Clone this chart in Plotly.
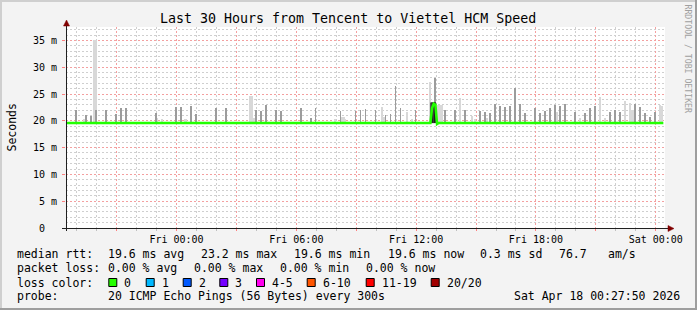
import plotly.graph_objects as go
import pandas as pd

# ---------------- data ----------------
T0 = pd.Timestamp("2026-04-16 18:27:50")   # start of the 30 h window
STEP_MIN = 5
N_STEPS = 360

# median RTT (ms) per 5-minute step
median_ms = [19.6] * 220 + [22.4, 23.2, 23.0, 19.4] + [19.6] * 136

# darker smoke spikes: step index -> top (ms)
dark_idx = [6, 12, 15, 18, 24, 30, 33, 36, 54, 66, 69, 75, 78, 90, 96, 114, 117, 120, 126, 129,
            141, 147, 150, 165, 174, 177, 180, 186, 192, 195, 198, 201, 210, 222, 228, 234, 240,
            249, 252, 255, 258, 261, 264, 267, 270, 273, 276, 282, 285, 288, 291, 294, 297, 300,
            306, 312, 315, 318, 327, 330, 333, 342, 345, 348, 351, 354]
dark_top = [22.1, 21.1, 20.9, 22.0, 22.0, 21.3, 22.3, 22.4, 21.5, 22.5, 22.6, 22.8, 21.3, 22.3, 22.3,
            22.0, 21.8, 22.9, 22.1, 21.8, 22.3, 20.5, 22.3, 21.9, 21.9, 22.0, 22.2, 22.0, 21.1, 21.3,
            26.5, 22.3, 22.1, 27.9, 22.0, 22.0, 22.0, 21.9, 21.7, 21.4, 23.1, 22.8, 22.6, 22.8, 26.1,
            23.1, 21.5, 22.3, 21.4, 21.9, 22.3, 22.9, 22.8, 23.1, 21.7, 21.4, 22.3, 22.8, 21.7, 22.1,
            21.7, 23.1, 22.5, 21.4, 20.7, 21.7]

# light smoke: step index -> top (ms)
light_idx = [11, 17, 18, 54, 55, 58, 72, 111, 112, 113, 162, 166, 167, 168, 190, 191, 205, 208, 219,
             224, 225, 226, 237, 244, 246, 253, 294, 295, 309, 321, 324, 336, 339, 340, 341, 357, 358]
light_top = [20.3, 35.1, 35.1, 20.5, 20.5, 20.3, 20.3, 24.6, 24.6, 20.5, 20.3, 20.7, 20.7, 20.4, 22.6,
             20.8, 21.7, 20.4, 27.3, 22.9, 22.9, 22.9, 24.2, 20.9, 20.4, 20.6, 21.7, 21.7, 20.6, 24.5,
             20.6, 23.7, 23.4, 22.0, 22.0, 22.9, 22.8]

# dense smoke block
block_idx = [220, 221, 222]
block_top = [23.3, 23.3, 23.3]
smoke_floor = 19.5

y_ticks = [0, 5, 10, 15, 20, 25, 30, 35]
y_ticktext = ["0\u00a0\u00a0", "5 m", "10 m", "15 m", "20 m", "25 m", "30 m", "35 m"]

legend_rows = [
    [("median rtt:", 16), ("19.6 ms avg", 107.3), ("23.2 ms max", 200), ("19.6 ms min", 293.3),
     ("19.6 ms now", 386.7), ("0.3 ms sd", 479.3), ("76.7", 558), ("am/s", 607.3)],
    [("packet loss:", 16), ("0.00 % avg", 107.3), ("0.00 % max", 193.3), ("0.00 % min", 279.3),
     ("0.00 % now", 365)],
    [("loss color:", 16)],
    [("probe:", 16), ("20 ICMP Echo Pings (56 Bytes) every 300s", 107.3),
     ("Sat Apr 18 00:27:50 2026", 513.3)],
]
row_y = [254.3, 268.3, 282.5, 296.3]
loss_labels = ["0", "1", "2", "3", "4-5", "6-10", "11-19", "20/20"]
loss_colors = ["#26ff00", "#00b8ff", "#0059ff", "#7400ff", "#ff00ee", "#ff5500", "#ff0000", "#a10000"]
loss_box_x = [108.3, 145.7, 182.7, 219.3, 256, 306.7, 365.7, 430.7]

# ---------------- figure ----------------
W, H = 697, 310
L, T, PW, PH = 66, 27, 599, 201
FONT = "DejaVu Sans Mono"


def px(x):
    return (x - L) / PW


def py(y):
    return (T + PH - y) / PH


times = [T0 + pd.Timedelta(minutes=STEP_MIN * i) for i in range(N_STEPS)]
step_ms = STEP_MIN * 60 * 1000

fig = go.Figure()
fig.add_trace(go.Bar(x=[times[i] for i in light_idx], y=[v - smoke_floor for v in light_top],
                     base=smoke_floor, width=step_ms, marker=dict(color="#d8d8d8", line_width=0),
                     hoverinfo="skip"))
fig.add_trace(go.Bar(x=[times[i] for i in dark_idx], y=[v - smoke_floor for v in dark_top],
                     base=smoke_floor, width=step_ms * 0.5, marker=dict(color="#9c9c9c", line_width=0),
                     hoverinfo="skip"))
fig.add_trace(go.Bar(x=[times[i] for i in block_idx], y=[v - smoke_floor for v in block_top],
                     base=smoke_floor, width=step_ms, marker=dict(color="#444444", line=dict(color="#000000", width=0.6)),
                     hoverinfo="skip"))
fig.add_trace(go.Scatter(x=times, y=median_ms, mode="lines", line=dict(color="#22ff00", width=2.6),
                         hoverinfo="skip"))

x_end = T0 + pd.Timedelta(hours=30)
major_vals, major_text = [], []
t = pd.Timestamp("2026-04-16 21:00")
while t <= x_end:
    major_vals.append(t)
    major_text.append(t.strftime("%a %H:%M") if t.hour % 6 == 0 else "")
    t += pd.Timedelta(hours=3)

grid_minor = "#cfcfcf"
grid_major = "#f4a0a0"

fig.update_layout(
    width=W, height=H,
    margin=dict(l=L, r=W - L - PW, t=T, b=H - T - PH, pad=0),
    paper_bgcolor="#f3f3f3", plot_bgcolor="#ffffff",
    showlegend=False, barmode="overlay", bargap=0,
    font=dict(family=FONT, color="#000000", size=10),
    xaxis=dict(type="date", range=[T0, x_end], tickmode="array", tickvals=major_vals, ticktext=major_text,
               showgrid=True, gridcolor=grid_major, griddash="2px,2px", gridwidth=1,
               ticks="outside", ticklen=2, tickcolor="#ff8080", tickfont=dict(size=10, family=FONT),
               showline=False, zeroline=False,
               minor=dict(tickmode="linear", tick0="2026-04-16 00:00", dtick=3600000, showgrid=True,
                          gridcolor=grid_minor, griddash="2px,2px", gridwidth=1,
                          ticks="outside", ticklen=2, tickcolor="#c0c0c0")),
    yaxis=dict(range=[0, 37.5], tickmode="array", tickvals=y_ticks, ticktext=y_ticktext,
               showgrid=True, gridcolor=grid_major, griddash="2px,2px", gridwidth=1,
               ticks="outside", ticklen=3, tickcolor="#ff8080", tickfont=dict(size=10, family=FONT),
               showline=False, zeroline=False, ticklabelstandoff=3,
               minor=dict(tickmode="linear", tick0=0, dtick=1, showgrid=True, gridcolor=grid_minor,
                          griddash="2px,2px", gridwidth=1)),
)

shapes = []
# frame shading
shapes.append(dict(type="rect", xref="paper", yref="paper", x0=px(0), x1=px(W), y0=py(0), y1=py(2),
                   fillcolor="#cfcfcf", line_width=0, layer="below"))
shapes.append(dict(type="rect", xref="paper", yref="paper", x0=px(0), x1=px(2), y0=py(0), y1=py(H),
                   fillcolor="#cfcfcf", line_width=0, layer="below"))
shapes.append(dict(type="rect", xref="paper", yref="paper", x0=px(0), x1=px(W), y0=py(H - 2), y1=py(H),
                   fillcolor="#9e9e9e", line_width=0, layer="below"))
shapes.append(dict(type="rect", xref="paper", yref="paper", x0=px(W - 2), x1=px(W), y0=py(0), y1=py(H),
                   fillcolor="#9e9e9e", line_width=0, layer="below"))
# axes
shapes.append(dict(type="line", xref="paper", yref="paper", x0=px(62), x1=px(669), y0=py(228.5), y1=py(228.5),
                   line=dict(color="#202020", width=1)))
shapes.append(dict(type="line", xref="paper", yref="paper", x0=px(66.5), x1=px(66.5), y0=py(231), y1=py(24),
                   line=dict(color="#202020", width=1)))
# arrows
shapes.append(dict(type="path", xref="paper", yref="paper",
                   path=f"M {px(66.5)} {py(20)} L {px(63.5)} {py(26)} L {px(69.5)} {py(26)} Z",
                   fillcolor="#800000", line=dict(color="#800000", width=0.5)))
shapes.append(dict(type="path", xref="paper", yref="paper",
                   path=f"M {px(674)} {py(228.5)} L {px(668)} {py(225.5)} L {px(668)} {py(231.5)} Z",
                   fillcolor="#800000", line=dict(color="#800000", width=0.5)))
# loss colour boxes
for c, bx in zip(loss_colors, loss_box_x):
    shapes.append(dict(type="rect", xref="paper", yref="paper", x0=px(bx + 0.5), x1=px(bx + 8.5),
                       y0=py(278.5), y1=py(286.5), fillcolor=c, line=dict(color="#000000", width=1)))
fig.update_layout(shapes=shapes)

ann = []
ann.append(dict(text="Last 30 Hours from Tencent to Viettel HCM Speed", x=px(347.5), y=py(19),
                xanchor="center", yanchor="middle", font=dict(size=13.3, family=FONT)))
ann.append(dict(text="Seconds", x=px(11), y=py(127.5), textangle=-90, xanchor="center", yanchor="middle",
                font=dict(size=11.5, family=FONT)))
ann.append(dict(text="RRDTOOL / TOBI OETIKER", x=px(687.5), y=py(59), textangle=90, xanchor="center",
                yanchor="middle", font=dict(size=8.2, family=FONT, color="#a0a0a0")))
for row, yy in zip(legend_rows, row_y):
    for txt, xx in row:
        ann.append(dict(text=txt, x=px(xx - 1), y=py(yy), xanchor="left", yanchor="middle",
                        font=dict(size=11.5, family=FONT)))
for lab, bx in zip(loss_labels, loss_box_x):
    ann.append(dict(text=lab, x=px(bx + 15 - 1), y=py(row_y[2]), xanchor="left", yanchor="middle",
                    font=dict(size=11.5, family=FONT)))
for a in ann:
    a.update(xref="paper", yref="paper", showarrow=False)
fig.update_layout(annotations=ann)

fig.write_html("out.html", config={"displayModeBar": False})
